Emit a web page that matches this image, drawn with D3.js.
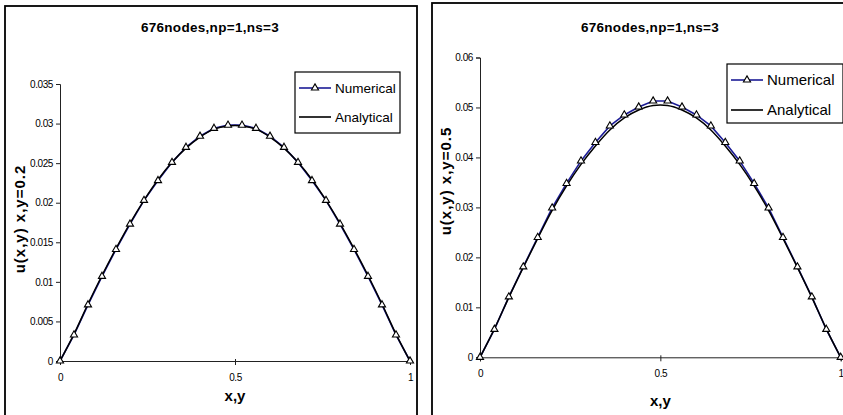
<!DOCTYPE html>
<html>
<head>
<meta charset="utf-8">
<script src="https://cdn.jsdelivr.net/npm/d3@7"></script>
<style>
  body { margin: 0; background: #fff; }
  svg { display: block; font-family: "Liberation Sans", Arial, sans-serif; }
</style>
</head>
<body>
<div id="chart"></div>
<script>
var width = 843, height = 415;

// x positions of the 26 nodes along the line (step 0.04)
var xNodes = [0, 0.04, 0.08, 0.12, 0.16, 0.2, 0.24, 0.28, 0.32, 0.36, 0.4, 0.44, 0.48,
  0.52, 0.56, 0.6, 0.64, 0.68, 0.72, 0.76, 0.8, 0.84, 0.88, 0.92, 0.96, 1];

// y = 0.2
var numericalA = [0, 0.0033, 0.0071, 0.0107, 0.0141, 0.0173, 0.0203, 0.0228, 0.0251, 0.0270, 0.0284, 0.0294, 0.0298,
  0.0298, 0.0294, 0.0284, 0.0270, 0.0251, 0.0228, 0.0203, 0.0173, 0.0141, 0.0107, 0.0071, 0.0033, 0];
var analyticalA = [0, 0.0034, 0.0072, 0.0108, 0.0142, 0.0174, 0.0203, 0.0229, 0.0251, 0.0269, 0.0283, 0.0293, 0.0297,
  0.0297, 0.0293, 0.0283, 0.0269, 0.0251, 0.0229, 0.0203, 0.0174, 0.0142, 0.0108, 0.0072, 0.0034, 0];

// y = 0.5
var numericalB = [0, 0.0056, 0.0121, 0.0181, 0.0240, 0.0299, 0.0348, 0.0393, 0.0430, 0.0463, 0.0485, 0.0501, 0.0513,
  0.0513, 0.0501, 0.0485, 0.0463, 0.0430, 0.0393, 0.0348, 0.0299, 0.0240, 0.0181, 0.0121, 0.0056, 0];
var analyticalB = [0, 0.0057, 0.0120, 0.0180, 0.0238, 0.0294, 0.0343, 0.0386, 0.0423, 0.0455, 0.0479, 0.0495, 0.0504,
  0.0504, 0.0495, 0.0479, 0.0455, 0.0423, 0.0386, 0.0343, 0.0294, 0.0238, 0.0180, 0.0120, 0.0057, 0];

var xTicks = [0, 0.5, 1];
var yTicksA = [0, 0.005, 0.01, 0.015, 0.02, 0.025, 0.03, 0.035];
var yTicksB = [0, 0.01, 0.02, 0.03, 0.04, 0.05, 0.06];
var legendNames = ['Numerical', 'Analytical'];
var title = '676nodes,np=1,ns=3';

var svg = d3.select('#chart').append('svg')
  .attr('width', width).attr('height', height);

var panels = [
  {frame: [5, 6, 412, 420], x0: 60, x1: 410, y0: 361, y1: 84, yMax: 0.035, yTicks: yTicksA,
   num: numericalA, ana: analyticalA, ylabel: 'u(x,y) x,y=0.2', ylabX: 20, ylabY: 219,
   titleX: 210, xlabY: 401, legend: [295, 72, 105, 61, 88, 117, 13.5]},
  {frame: [432, 3, 420, 420], x0: 480, x1: 840.7, y0: 357.3, y1: 57.5, yMax: 0.06, yTicks: yTicksB,
   num: numericalB, ana: analyticalB, ylabel: 'u(x,y) x,y=0.5', ylabX: 446, ylabY: 181,
   titleX: 650, xlabY: 406, legend: [727, 64, 116, 59, 80, 110, 15]}
];

panels.forEach(function(p) {
  var g = svg.append('g');

  g.append('rect')
    .attr('x', p.frame[0]).attr('y', p.frame[1])
    .attr('width', p.frame[2]).attr('height', p.frame[3])
    .attr('fill', '#fff').attr('stroke', '#000').attr('stroke-width', 1.8);

  var x = d3.scaleLinear().domain([0, 1]).range([p.x0, p.x1]);
  var y = d3.scaleLinear().domain([0, p.yMax]).range([p.y0, p.y1]);

  // axes
  var yAxis = g.append('g').attr('transform', 'translate(' + p.x0 + ',0)')
    .call(d3.axisLeft(y).tickValues(p.yTicks).tickSize(4).tickPadding(3)
      .tickFormat(function(d) { return d === 0 ? '0' : String(+d.toFixed(3)); }));
  var xAxis = g.append('g').attr('transform', 'translate(0,' + p.y0 + ')')
    .call(d3.axisBottom(x).tickValues(xTicks).tickSize(4).tickPadding(9)
      .tickFormat(function(d) { return String(d); }));
  [xAxis, yAxis].forEach(function(a) {
    a.select('.domain').attr('stroke', '#222').attr('stroke-width', 1);
    a.selectAll('.tick line').attr('stroke', '#222');
    a.selectAll('text').attr('font-size', 10).attr('fill', '#000')
      .attr('font-family', '"Liberation Sans", Arial, sans-serif')
      .attr('letter-spacing', -0.4);
  });
  // x ticks cross the axis line
  xAxis.selectAll('.tick line').attr('y1', -2).attr('y2', 4);

  var line = d3.line()
    .x(function(d, i) { return x(xNodes[i]); })
    .y(function(d) { return y(d); });
  var smooth = d3.line()
    .x(function(d, i) { return x(xNodes[i]); })
    .y(function(d) { return y(d); })
    .curve(d3.curveCatmullRom.alpha(0.5));

  g.append('path').datum(p.num)
    .attr('d', line).attr('fill', 'none')
    .attr('stroke', '#1c1c96').attr('stroke-width', 1.6);
  g.append('path').datum(p.ana)
    .attr('d', smooth).attr('fill', 'none')
    .attr('stroke', '#000').attr('stroke-width', 1.5);

  var tri = d3.symbol().type(d3.symbolTriangle).size(22);
  g.selectAll('.marker').data(p.num).enter().append('path')
    .attr('class', 'marker')
    .attr('d', tri)
    .attr('transform', function(d, i) { return 'translate(' + x(xNodes[i]) + ',' + y(d) + ')'; })
    .attr('fill', '#fff').attr('stroke', '#000').attr('stroke-width', 1.1);

  // title and axis labels
  g.append('text').attr('x', p.titleX).attr('y', 32)
    .attr('text-anchor', 'middle').attr('font-weight', 'bold').attr('font-size', 13.5)
    .attr('letter-spacing', 0.3)
    .text(title);
  g.append('text').attr('x', (p.x0 + p.x1) / 2).attr('y', p.xlabY)
    .attr('text-anchor', 'middle').attr('font-weight', 'bold').attr('font-size', 15)
    .text('x,y');
  g.append('text')
    .attr('transform', 'translate(' + (p.ylabX + 5) + ',' + p.ylabY + ') rotate(-90)')
    .attr('text-anchor', 'middle').attr('font-weight', 'bold').attr('font-size', 15)
    .attr('letter-spacing', 1)
    .text(p.ylabel);

  // legend
  var L = p.legend;
  var lg = g.append('g');
  lg.append('rect').attr('x', L[0]).attr('y', L[1]).attr('width', L[2]).attr('height', L[3])
    .attr('fill', '#fff').attr('stroke', '#000').attr('stroke-width', 1.2);
  var rows = [{y: L[4], color: '#1c1c96', marker: true}, {y: L[5], color: '#000', marker: false}];
  rows.forEach(function(r, i) {
    lg.append('line').attr('x1', L[0] + 4).attr('x2', L[0] + 36)
      .attr('y1', r.y).attr('y2', r.y)
      .attr('stroke', r.color).attr('stroke-width', 1.6);
    if (r.marker) {
      lg.append('path').attr('d', tri)
        .attr('transform', 'translate(' + (L[0] + 20) + ',' + r.y + ')')
        .attr('fill', '#fff').attr('stroke', '#000').attr('stroke-width', 1.1);
    }
    lg.append('text').attr('x', L[0] + 40).attr('y', r.y + L[6] * 0.36)
      .attr('font-size', L[6]).text(legendNames[i]);
  });
});
</script>
</body>
</html>
